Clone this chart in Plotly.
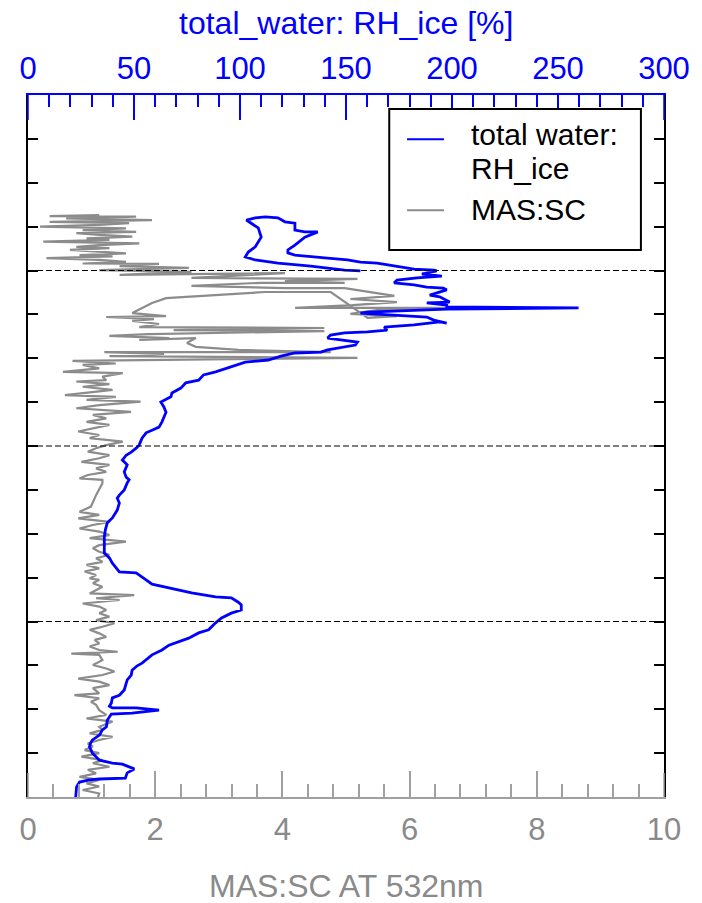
import plotly.graph_objects as go

# Vertical profile: altitude (km) vs relative humidity over ice (%)
rh_profile = [
    (0.00, 22.5), (0.23, 22.9), (0.34, 24.3), (0.39, 29.0), (0.41, 33.7), (0.43, 45.9),
    (0.55, 46.8), (0.64, 50.1), (0.75, 44.5), (0.77, 39.8), (0.84, 33.7), (1.00, 30.4),
    (1.14, 29.0), (1.23, 29.5), (1.30, 30.4), (1.41, 33.7), (1.53, 35.1), (1.60, 37.0),
    (1.75, 37.4), (1.89, 39.3), (1.91, 49.1), (1.98, 61.8), (2.03, 51.0), (2.03, 39.8),
    (2.07, 38.4), (2.14, 39.3), (2.26, 39.8), (2.32, 43.1), (2.44, 45.4), (2.67, 46.8),
    (2.78, 48.7), (2.89, 49.1), (2.99, 51.5), (3.05, 53.8), (3.24, 58.5), (3.35, 63.2),
    (3.46, 66.5), (3.56, 72.1), (3.62, 75.8), (3.74, 80.5), (3.81, 85.2), (3.97, 88.5),
    (4.08, 91.3), (4.19, 95.9), (4.26, 100.6), (4.38, 100.6), (4.44, 99.2), (4.54, 95.9),
    (4.56, 88.5), (4.65, 77.2), (4.72, 71.1), (4.79, 65.1), (4.85, 58.5), (4.95, 55.7),
    (5.11, 51.0), (5.13, 43.1), (5.22, 41.7), (5.33, 39.8), (5.45, 38.4), (5.56, 36.0),
    (5.74, 36.0), (5.93, 36.0), (6.09, 36.5), (6.25, 37.4), (6.36, 39.8), (6.43, 40.7),
    (6.54, 42.1), (6.70, 43.1), (6.81, 42.1), (6.88, 43.1), (7.00, 45.4), (7.16, 46.8),
    (7.23, 47.7), (7.29, 46.3), (7.41, 45.4), (7.57, 46.8), (7.68, 44.5), (7.79, 46.3),
    (7.86, 48.7), (7.95, 51.0), (8.02, 52.4), (8.18, 53.8), (8.30, 55.7), (8.36, 58.5),
    (8.43, 61.8), (8.55, 63.2), (8.66, 64.1), (8.77, 65.1), (8.89, 64.1), (9.00, 62.7),
    (9.12, 67.4), (9.21, 67.9), (9.32, 72.1), (9.44, 74.4), (9.50, 80.5), (9.62, 82.8),
    (9.69, 88.5), (9.80, 95.9), (9.91, 102.5), (9.96, 113.3), (10.05, 119.3), (10.12, 125.9),
    (10.14, 138.1), (10.19, 141.3), (10.26, 149.3), (10.30, 154.4), (10.37, 155.4), (10.46, 141.3),
    (10.53, 142.7), (10.58, 149.3), (10.60, 160.1), (10.64, 169.4), (10.71, 168.0), (10.76, 182.1),
    (10.83, 194.2), (10.80, 197.5), (10.87, 191.4), (10.94, 188.1), (10.99, 172.7), (11.03, 156.8),
    (11.05, 160.1), (11.10, 188.1), (11.12, 197.5), (11.15, 259.7), (11.17, 197.5), (11.21, 197.5),
    (11.26, 188.1), (11.28, 198.9), (11.40, 194.2), (11.44, 189.5), (11.56, 197.5), (11.60, 195.9),
    (11.62, 188.1), (11.67, 182.1), (11.72, 172.7), (11.78, 174.1), (11.83, 183.5), (11.87, 195.2),
    (11.92, 185.8), (11.99, 192.8), (12.01, 191.4), (12.03, 182.1), (12.08, 175.5), (12.17, 164.7),
    (12.19, 156.8), (12.24, 150.7), (12.28, 141.3), (12.31, 133.4), (12.35, 125.9), (12.40, 122.6),
    (12.47, 122.6), (12.58, 125.9), (12.69, 128.7), (12.76, 130.6), (12.88, 136.7), (12.88, 130.6),
    (12.92, 125.9), (13.08, 125.9), (13.11, 121.2), (13.20, 117.9), (13.22, 111.9), (13.20, 107.2),
    (13.15, 103.0), (13.08, 105.3), (12.97, 108.6), (12.76, 110.0), (12.54, 107.2), (12.42, 103.9),
    (12.31, 102.5), (12.24, 107.2), (12.17, 117.9), (12.10, 133.4), (12.06, 141.3), (12.01, 149.3),
    (11.99, 156.8),
]

# Vertical profile: altitude (km) vs MAS scattering ratio at 532 nm
sc_profile = [
    (0.00, 1.10), (0.08, 1.12), (0.16, 0.86), (0.24, 1.12), (0.31, 0.92), (0.39, 1.12),
    (0.46, 0.81), (0.54, 1.07), (0.62, 0.94), (0.69, 1.28), (0.77, 1.02), (0.84, 1.17),
    (0.92, 0.84), (1.00, 1.12), (1.07, 0.89), (1.15, 1.02), (1.22, 0.94), (1.30, 1.12),
    (1.37, 1.33), (1.45, 0.97), (1.53, 1.17), (1.60, 1.12), (1.72, 1.33), (1.79, 0.92),
    (1.87, 1.23), (1.98, 1.12), (2.10, 1.07), (2.17, 0.99), (2.25, 1.12), (2.32, 0.73),
    (2.36, 1.12), (2.48, 1.02), (2.55, 1.28), (2.63, 1.12), (2.70, 0.79), (2.78, 1.17),
    (2.86, 1.36), (2.93, 1.23), (3.01, 1.02), (3.12, 1.17), (3.24, 1.12), (3.27, 0.68),
    (3.31, 1.41), (3.35, 1.12), (3.43, 0.97), (3.50, 1.12), (3.58, 1.05), (3.65, 1.23),
    (3.73, 1.12), (3.81, 0.97), (3.88, 1.17), (3.96, 1.36), (4.03, 1.07), (4.11, 1.28),
    (4.19, 1.12), (4.26, 1.23), (4.34, 1.12), (4.41, 0.86), (4.49, 1.44), (4.53, 1.07),
    (4.60, 1.67), (4.64, 0.97), (4.79, 1.17), (4.87, 1.02), (4.95, 1.12),
    (4.98, 0.97), (5.06, 1.07), (5.14, 0.89), (5.21, 1.12), (5.29, 0.92), (5.36, 1.17),
    (5.44, 1.07), (5.52, 1.28), (5.59, 1.12), (5.67, 1.02), (5.74, 1.12), (5.82, 1.54),
    (5.90, 0.97), (5.97, 1.28), (6.05, 1.12), (6.12, 0.81), (6.20, 1.02), (6.27, 1.28),
    (6.35, 0.79), (6.43, 1.12), (6.50, 0.81), (6.62, 0.99), (6.88, 1.07), (7.15, 1.17),
    (7.23, 1.17), (7.26, 0.81), (7.34, 0.94), (7.41, 1.23), (7.49, 1.07), (7.57, 1.28),
    (7.64, 0.84), (7.72, 1.12), (7.79, 1.28), (7.87, 0.94), (7.95, 1.07), (8.02, 1.23),
    (8.10, 1.49), (8.18, 0.97), (8.25, 1.12), (8.33, 0.79), (8.40, 1.02), (8.48, 1.28),
    (8.55, 0.92), (8.63, 1.23), (8.71, 1.02), (8.78, 1.62), (8.86, 0.76), (8.93, 1.12),
    (9.01, 1.77), (9.05, 0.92), (9.12, 1.38), (9.16, 0.58), (9.28, 1.33), (9.35, 0.86),
    (9.41, 1.28), (9.47, 0.76), (9.50, 1.23), (9.58, 1.17), (9.66, 1.49), (9.69, 0.55),
    (9.77, 1.12), (9.85, 0.86), (9.88, 1.38), (9.94, 0.70),
    (10.01, 5.18), (10.05, 1.28), (10.10, 2.14), (10.14, 1.20), (10.14, 4.76), (10.19, 3.31),
    (10.26, 2.64), (10.35, 2.50), (10.46, 2.64), (10.42, 1.75), (10.46, 2.22), (10.51, 1.28),
    (10.55, 1.90), (10.62, 4.66), (10.64, 2.29), (10.69, 4.66), (10.71, 1.75), (10.78, 2.06),
    (10.85, 1.64), (10.89, 1.98), (10.94, 1.23), (10.96, 2.17), (11.03, 1.64), (11.26, 1.95),
    (11.37, 2.17), (11.51, 3.73), (11.51, 4.76), (10.92, 5.34), (10.96, 5.80), (11.01, 5.07),
    (11.10, 5.49), (11.15, 7.72), (11.15, 4.20), (11.21, 5.10), (11.28, 5.80), (11.35, 5.07),
    (11.42, 5.76), (11.60, 4.98), (11.60, 4.04), (11.65, 2.57), (11.72, 3.67), (11.72, 4.98),
    (11.76, 4.04), (11.81, 5.18), (11.83, 2.57), (11.94, 4.04), (11.90, 1.44), (11.97, 2.57),
    (12.01, 1.12), (12.06, 2.53), (12.10, 1.44), (12.15, 2.06),
    (12.16, 0.86), (12.20, 1.54), (12.24, 1.12), (12.28, 0.29), (12.32, 1.33), (12.35, 0.81),
    (12.39, 1.54), (12.43, 1.07), (12.47, 0.66), (12.51, 1.28), (12.54, 0.76), (12.58, 1.12),
    (12.62, 1.75), (12.66, 0.24), (12.70, 1.28), (12.73, 0.92), (12.77, 1.64), (12.81, 1.12),
    (12.85, 0.76), (12.88, 1.70), (12.92, 0.86), (12.96, 1.54), (13.00, 0.19), (13.04, 1.12),
    (13.08, 1.59), (13.11, 0.34), (13.15, 1.95), (13.19, 0.60), (13.23, 1.70), (13.24, 0.34),
    (13.26, 1.12),
]

layer_bounds = [4, 8, 12]          # dashed reference altitudes (km)
sc_ticks = [0, 2, 4, 6, 8, 10]
rh_ticks = [0, 50, 100, 150, 200, 250, 300]

BLUE = "#0000ff"
GRAY_LINE = "#8c8c8c"
GRAY_AXIS = "#a0a0a0"
GRAY_TEXT = "#8a8a8a"
FONT = "Liberation Sans, Arial, Helvetica, sans-serif"

rh_alt = [p[0] for p in rh_profile]
rh_val = [p[1] for p in rh_profile]
sc_alt = [p[0] for p in sc_profile]
sc_val = [p[1] for p in sc_profile]

fig = go.Figure()
fig.add_trace(go.Scatter(x=rh_val, y=rh_alt, xaxis="x2", yaxis="y", mode="lines",
                         line=dict(color=BLUE, width=2.8), name="total water: RH_ice"))
fig.add_trace(go.Scatter(x=sc_val, y=sc_alt, xaxis="x", yaxis="y", mode="lines",
                         line=dict(color=GRAY_LINE, width=2.2), name="MAS:SC"))

shapes = []
for alt in layer_bounds:
    shapes.append(dict(type="line", xref="paper", yref="y", x0=0, x1=1, y0=alt, y1=alt,
                       line=dict(color="black", width=1, dash="6px,3px"), layer="above"))

# short end-caps belonging to the two horizontal axes
for xp in (0, 1):
    shapes.append(dict(type="line", xref="paper", yref="paper", x0=xp, x1=xp,
                       ysizemode="pixel", yanchor=0, y0=0, y1=24,
                       line=dict(color=GRAY_AXIS, width=1.5), layer="above"))
    shapes.append(dict(type="line", xref="paper", yref="paper", x0=xp, x1=xp,
                       ysizemode="pixel", yanchor=1, y0=0, y1=-25,
                       line=dict(color=BLUE, width=1.5), layer="above"))

# legend frame and sample lines
shapes.append(dict(type="rect", xref="paper", yref="paper", x0=0.568, x1=0.9637,
                   y0=0.7792, y1=0.9801, line=dict(color="black", width=2),
                   fillcolor="white", layer="above"))
shapes.append(dict(type="line", xref="paper", yref="paper", x0=0.596, x1=0.654,
                   y0=0.937, y1=0.937, line=dict(color=BLUE, width=2), layer="above"))
shapes.append(dict(type="line", xref="paper", yref="paper", x0=0.596, x1=0.654,
                   y0=0.836, y1=0.836, line=dict(color=GRAY_LINE, width=2), layer="above"))

annotations = [
    dict(text="total_water: RH_ice [%]", xref="paper", yref="paper", x=0.5, y=1.102,
         xanchor="center", yanchor="middle", showarrow=False,
         font=dict(family=FONT, size=32, color=BLUE)),
    dict(text="MAS:SC AT 532nm", xref="paper", yref="paper", x=0.5, y=-0.127,
         xanchor="center", yanchor="middle", showarrow=False,
         font=dict(family=FONT, size=32, color=GRAY_TEXT)),
    dict(text="total water:", xref="paper", yref="paper", x=0.695, y=0.9444,
         xanchor="left", yanchor="middle", showarrow=False, borderpad=0,
         font=dict(family=FONT, size=30, color="black")),
    dict(text="RH_ice", xref="paper", yref="paper", x=0.695, y=0.8960,
         xanchor="left", yanchor="middle", showarrow=False, borderpad=0,
         font=dict(family=FONT, size=30, color="black")),
    dict(text="MAS:SC", xref="paper", yref="paper", x=0.695, y=0.8368,
         xanchor="left", yanchor="middle", showarrow=False, borderpad=0,
         font=dict(family=FONT, size=30, color="black")),
]

fig.update_layout(
    width=702, height=903,
    margin=dict(l=28, r=31, t=95, b=106),
    paper_bgcolor="white", plot_bgcolor="white",
    showlegend=False,
    shapes=shapes, annotations=annotations,
    xaxis=dict(range=[0, 10], tickvals=sc_ticks, ticks="inside", ticklen=26, tickwidth=1.5,
               tickcolor=GRAY_AXIS, showline=True, linecolor=GRAY_AXIS, linewidth=1.5,
               showgrid=False, zeroline=False,
               tickfont=dict(family=FONT, size=31, color=GRAY_TEXT),
               ticklabelstandoff=4,
               minor=dict(dtick=0.4, tick0=0, ticks="inside", ticklen=13, tickwidth=1.5,
                          tickcolor=GRAY_AXIS, showgrid=False)),
    xaxis2=dict(range=[0, 300], tickvals=rh_ticks, overlaying="x", side="top", anchor="y",
                ticks="inside", ticklen=25, tickwidth=1.5, tickcolor=BLUE,
                showline=True, linecolor=BLUE, linewidth=1.5,
                showgrid=False, zeroline=False,
                tickfont=dict(family=FONT, size=31, color=BLUE),
                ticklabelstandoff=2,
                minor=dict(dtick=10, tick0=0, ticks="inside", ticklen=12, tickwidth=1.5,
                           tickcolor=BLUE, showgrid=False)),
    yaxis=dict(range=[0, 16], dtick=1, tick0=0, ticks="inside", ticklen=10, tickwidth=1.5,
               tickcolor="black", showline=True, linecolor="black", linewidth=1.5,
               mirror="ticks", showticklabels=False, showgrid=False, zeroline=False),
)

fig.write_html("out.html")
